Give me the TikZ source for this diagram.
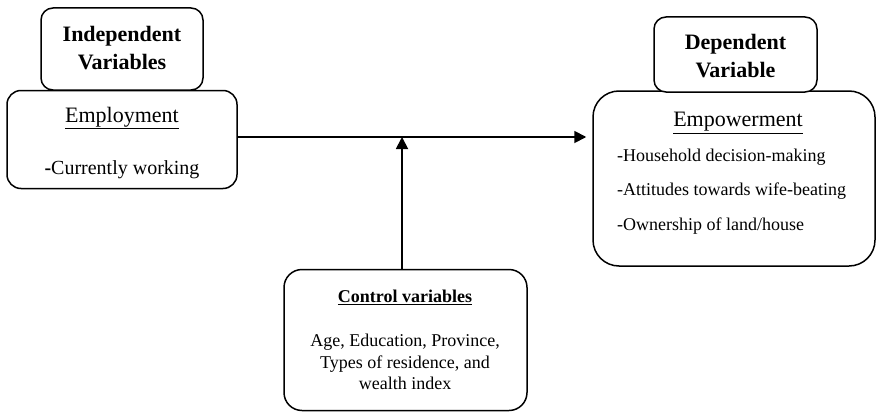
\documentclass[tikz,border=0pt]{standalone}
\usepackage{fontspec}
\setmainfont{Liberation Serif}
\usepackage{tikz}
\usetikzlibrary{arrows.meta,positioning}
\tikzset{
  cfbox/.style  ={rectangle, rounded corners=#1, draw=black, fill=white,
                  line width=1.5pt, inner sep=0pt},
  cfbox/.default=14pt,
  cfhead/.style ={font=\fontsize{22}{28}\selectfont\bfseries, align=center, inner sep=0pt},
  cftitle/.style={font=\fontsize{22}{26}\selectfont, inner sep=0pt},
  cftext/.style ={font=\fontsize{18}{22}\selectfont, inner sep=0pt},
  cfarrow/.style={-{Triangle[length=12pt,width=12pt]}, line width=1.8pt},
}
\begin{document}
\begin{tikzpicture}[x=1pt,y=-1pt]
  \useasboundingbox (0,0) rectangle (877,412);
  % left side
  \node[cfbox, minimum width=230pt, minimum height=98pt] (employ) at (122,139.5) {};
  \node[cfbox=12pt, minimum width=162pt, minimum height=82pt] (indep) at (122,49) {};
  \node[cfhead] (indeptxt) at (122,48) {Independent\\Variables};
  \node[cftitle] (employtxt) at (122,118) {\underline{Employment}};
  \node[cftext, font=\fontsize{20}{24}\selectfont] (worktxt) at (122,170) {\textbf{-}Currently working};
  % right side
  \node[cfbox=26pt, minimum width=282pt, minimum height=175pt] (empow) at (734,178.5) {};
  \node[cfbox=12pt, minimum width=163pt, minimum height=75pt] (dep) at (735.5,54.5) {};
  \node[cfhead] (deptxt) at (735.5,56) {Dependent\\Variable};
  \node[cftitle] (empowtxt) at (738,123) {\underline{Empowerment}};
  \node[cftext, anchor=west] (hhtxt) at (617,157) {-Household decision-making};
  \node[cftext, anchor=west] (atttxt) at (617,191.5) {-Attitudes towards wife-beating};
  \node[cftext, anchor=west] (owntxt) at (617,226) {-Ownership of land/house};
  % controls
  \node[cfbox=18pt, minimum width=243pt, minimum height=141pt] (ctrl) at (405.5,340) {};
  \node[cftext, font=\fontsize{18}{22}\selectfont\bfseries] (ctrltxt) at (405,297) {\underline{Control variables}};
  \node[cftext, align=center, font=\fontsize{18}{21.5}\selectfont] (covtxt) at (405,362)
    {Age, Education, Province,\\Types of residence, and\\wealth index};
  % arrows
  \coordinate (junc) at (402,137);
  \draw[cfarrow, shorten >=6pt] (employ.east |- junc) -- (junc -| empow.west);
  \draw[cfarrow] (ctrl.north -| junc) -- (junc);
\end{tikzpicture}
\end{document}
